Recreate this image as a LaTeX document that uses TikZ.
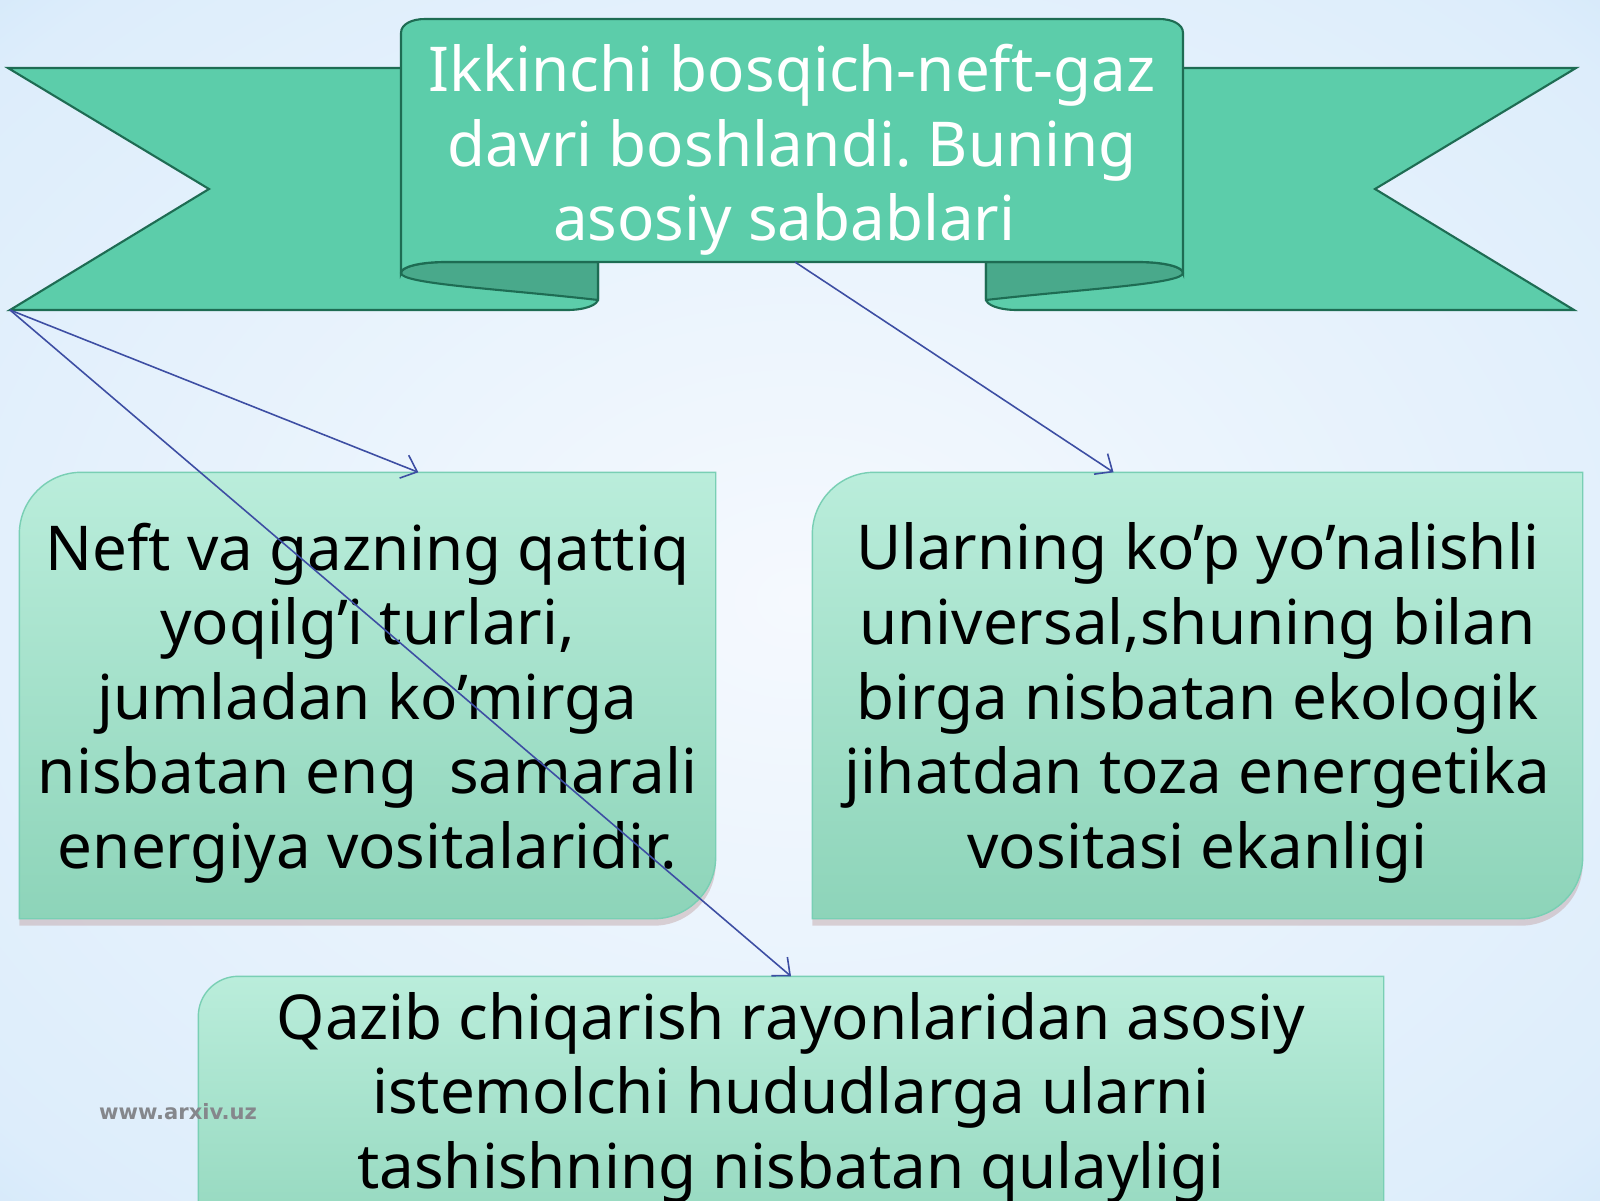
\documentclass[tikz,border=0pt]{standalone}
\usepackage{fontspec}
\setsansfont{Noto Sans}
\newfontfamily\markfont{DejaVu Sans}
\RequirePackage{xcolor}
\tikzset{every picture/.style={/utils/exec={\sffamily\frenchspacing}}}
\usetikzlibrary{calc}
\usetikzlibrary{backgrounds}
\usetikzlibrary{arrows.meta}

\definecolor{bgcentre}{HTML}{F5F9FE}
\definecolor{bgmid}{HTML}{DDEDFB}
\definecolor{bgedge}{HTML}{84BFF0}
\definecolor{ribbongreen}{HTML}{5CCDAA}
\definecolor{ribbonshade}{HTML}{49A98B}
\definecolor{ribbonline}{HTML}{1E6C53}
\definecolor{boxtop}{HTML}{BAEDDB}
\definecolor{boxbottom}{HTML}{8DD4B9}
\definecolor{boxline}{HTML}{79CFB4}
\definecolor{boxshadow}{HTML}{C7AFB2}
\definecolor{linkblue}{HTML}{3D4EA3}
\definecolor{markgrey}{HTML}{85878C}

\pgfdeclareradialshading{slide}{\pgfpoint{0bp}{0bp}}{color(0bp)=(bgcentre); color(33bp)=(bgmid); color(71bp)=(bgedge)}

\newcommand\slidefont{\fontsize{17.6}{21.2}\selectfont}

\begin{document}
\begin{tikzpicture}[
  >={Straight Barb[length=4pt,width=7pt]},
  ribbon/.style={fill=ribbongreen, draw=ribbonline, line width=0.6pt},
  ribbon fold/.style={fill=ribbonshade, draw=ribbonline, line width=0.6pt},
  slab/.style={inner sep=0pt, align=center, font=\slidefont, text depth=0pt},
  slab fill/.style={top color=boxtop, bottom color=boxbottom, draw=boxline, line width=0.4pt},
  slab shadow/.style={fill=boxshadow, opacity=0.55, transform canvas={yshift=-0.7mm}},
  link/.style={->, draw=linkblue, line width=0.45pt}
]

  \useasboundingbox (0,0) rectangle (16,12);
  \begin{scope}[on background layer]
    \shade[shading=slide] (0,0) rectangle (16,12);
  \end{scope}

  % tails and folds, the right half is the mirror of the left one
  \foreach \s in {1,-1} {
    \begin{scope}[shift={(7.92,0)}, xscale=\s]
      \filldraw[ribbon] (-7.84,11.32) -- (-5.83,10.11) -- (-7.82,8.90) -- (-2.25,8.90)
        .. controls (-2.07,8.90) and (-1.94,8.95) .. (-1.94,9.01) -- (-1.94,11.32) -- cycle;
      \filldraw[ribbon fold] (-3.91,9.27) .. controls (-3.91,9.16) and (-2.90,9.11) .. (-1.94,9.00)
        -- (-1.94,9.38) -- (-3.45,9.38) .. controls (-3.72,9.38) and (-3.91,9.33) .. (-3.91,9.27) -- cycle;
    \end{scope}
  }

  \filldraw[ribbon] (4.01,9.27) -- (4.01,11.67) .. controls (4.01,11.76) and (4.12,11.81) .. (4.25,11.81)
    -- (11.59,11.81) .. controls (11.72,11.81) and (11.83,11.76) .. (11.83,11.67)
    -- (11.83,9.27) .. controls (11.83,9.33) and (11.65,9.38) .. (11.38,9.38)
    -- (4.46,9.38) .. controls (4.19,9.38) and (4.01,9.33) .. (4.01,9.27) -- cycle;

  \coordinate (tail tip) at (0.10,8.90);
  \coordinate (tab bottom) at (7.95,9.38);

  \node (title) [text=white, align=center, font=\slidefont] at (7.92,10.50)
    {Ikkinchi bosqich-neft-gaz\\davri boshlandi. Buning\\asosiy sabablari\hspace*{0.25em}};

  \node (neft) [slab, minimum width=6.95cm, minimum height=4.45cm] at (3.675,5.045)
    {Neft va gazning qattiq\\yoqilg’i turlari,\\jumladan ko’mirga\\nisbatan eng\ \ samarali\\energiya vositalaridir.};
  \node (ular) [slab, minimum width=7.69cm, minimum height=4.45cm] at (11.975,5.045)
    {Ularning ko’p yo’nalishli\\universal,shuning bilan\\birga nisbatan ekologik\\jihatdan toza energetika\\vositasi ekanligi};
  \node (qazib) [slab, minimum width=11.84cm, minimum height=2.26cm] at (7.91,1.10)
    {Qazib chiqarish rayonlaridan asosiy\\istemolchi hududlarga ularni\\tashishning nisbatan qulayligi};

  \begin{scope}[on background layer]
    \foreach \b/\r/\d in {neft/6.2mm/0mm, ular/6.2mm/0mm, qazib/4mm/8mm} {
      \fill[slab shadow] ([yshift=-\d]\b.south west) -- ([yshift=-\r]\b.north west)
        arc[start angle=180, end angle=90, radius=\r] -- (\b.north east)
        -- ([yshift=\r-\d]\b.south east) arc[start angle=0, end angle=-90, radius=\r] -- cycle;
      \shade[slab fill] ([yshift=-\d]\b.south west) -- ([yshift=-\r]\b.north west)
        arc[start angle=180, end angle=90, radius=\r] -- (\b.north east)
        -- ([yshift=\r-\d]\b.south east) arc[start angle=0, end angle=-90, radius=\r] -- cycle;
    }
  \end{scope}

  \node (watermark) [text=markgrey, font=\markfont\bfseries\fontsize{6}{7}\selectfont] at (1.78,0.88) {www.arxiv.uz};

  \draw [link] (tail tip) -- ($(neft.north west)!0.573!(neft.north east)$);
  \draw [link] (tail tip) -- (qazib.north);
  \draw [link] (tab bottom) -- ($(ular.north west)!0.391!(ular.north east)$);

\end{tikzpicture}
\end{document}
